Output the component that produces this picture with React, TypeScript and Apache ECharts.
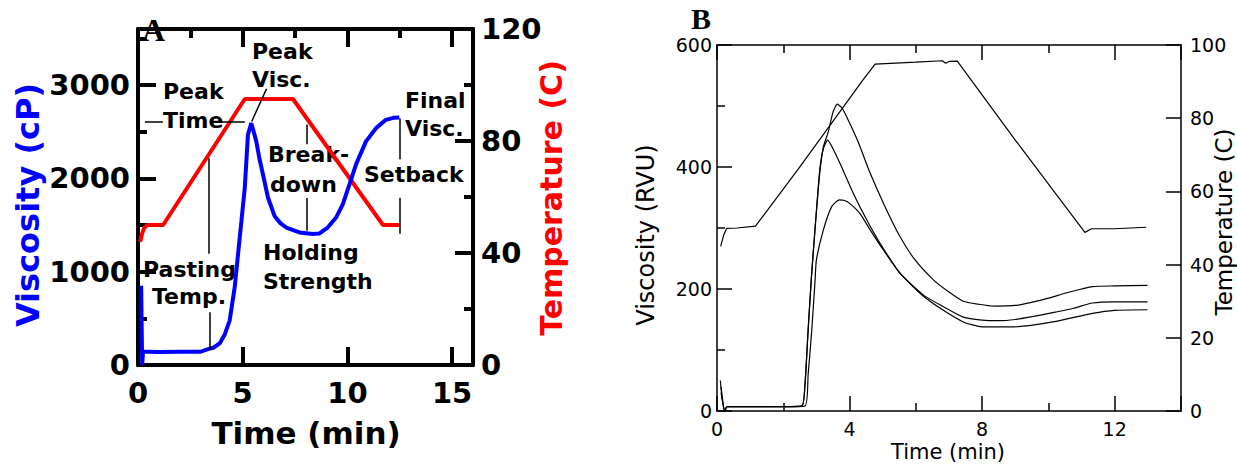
import React, { useEffect, useRef } from 'react';
import * as echarts from 'echarts';

// ---------- Panel A data ----------
const aViscTime = [0.15, 0.2, 0.24, 0.5, 1.0, 2.0, 3.0, 3.27, 3.43, 3.6, 3.9, 4.15, 4.38, 4.62, 4.78, 4.94, 5.1, 5.25, 5.41, 5.5, 5.65, 5.8, 5.97, 6.21, 6.52, 6.8, 7.08, 7.71, 8.35, 8.67, 9.06, 9.46, 9.78, 10.1, 10.41, 10.89, 11.37, 11.84, 12.2, 12.48];
const aViscValue = [850, 0, 142, 142, 140, 142, 142, 165, 175, 185, 231, 330, 479, 834, 1190, 1544, 1899, 2467, 2591, 2520, 2396, 2210, 2041, 1792, 1597, 1520, 1473, 1420, 1403, 1410, 1473, 1580, 1722, 1935, 2148, 2396, 2538, 2627, 2648, 2652];
const aTempTime = [0.1, 0.2, 0.3, 0.45, 1.2, 5.1, 7.4, 11.7, 12.5];
const aTempValue = [44, 47, 49, 50, 50, 95, 95, 50, 50];

// ---------- Panel B data ----------
const bTempTime = [0.11, 0.2, 0.29, 0.6, 1.16, 2.5, 4.4, 4.77, 6.0, 6.8, 6.9, 7.0, 7.25, 9.0, 11.1, 11.3, 12.0, 12.95];
const bTempValue = [45, 48, 49.9, 50, 50.5, 66.7, 90.4, 94.8, 95.3, 95.7, 95, 95.5, 95.6, 74, 48.8, 49.8, 49.8, 50.2];

const bVisc1Time = [0.1, 0.22, 0.3, 1.5, 2.55, 2.65, 2.75, 2.85, 2.96, 3.1, 3.21, 3.36, 3.5, 3.63, 3.75, 3.86, 4.26, 4.62, 5.07, 5.52, 5.97, 6.53, 7.0, 7.43, 7.9, 8.36, 9.0, 9.55, 10.0, 10.5, 11.0, 11.33, 12.0, 12.99];
const bVisc1Value = [50, 0, 7, 7, 8, 40, 133, 220, 300, 390, 433, 458, 490, 503, 498, 488, 441, 390, 335, 286, 248, 215, 195, 180, 175, 172, 173, 179, 185, 193, 200, 204, 205, 206];

const bVisc2Time = [0.12, 0.24, 0.3, 1.5, 2.55, 2.65, 2.75, 2.85, 2.96, 3.1, 3.21, 3.34, 3.5, 3.71, 4.11, 4.52, 4.92, 5.52, 6.23, 6.83, 7.43, 8.0, 8.5, 9.0, 9.55, 10.2, 10.74, 11.33, 12.0, 12.99];
const bVisc2Value = [40, 0, 7, 7, 8, 40, 133, 220, 300, 395, 430, 444, 430, 406, 357, 313, 275, 226, 190, 171, 154, 149, 148, 150, 155, 162, 168, 177, 179, 179];

const bVisc3Time = [0.12, 0.24, 0.3, 1.5, 2.65, 2.75, 2.86, 2.96, 3.0, 3.21, 3.46, 3.69, 3.85, 4.01, 4.31, 4.62, 5.02, 5.52, 6.23, 6.83, 7.43, 8.0, 8.95, 10.14, 11.33, 12.0, 12.99];
const bVisc3Value = [30, 0, 7, 7, 8, 60, 133, 215, 248, 297, 335, 346, 345, 340, 324, 297, 264, 226, 188, 165, 146, 138, 138, 146, 160, 165, 166];

// ---------- Tick label sets ----------
const aXLabels = [0, 5, 10, 15];
const aYLeftLabels = [0, 1000, 2000, 3000];
const aYRightLabels = [0, 40, 80, 120];
const bXLabels = [0, 4, 8, 12];

// annotation leader lines for panel A (data coordinates: [time, viscosity])
const aLeaders: [number, number, number, number][] = [
  [0.33, 2609, 1.19, 2609],
  [3.95, 2609, 5.1, 2609],
  [5.43, 2609, 6.14, 2960],
  [8.05, 2577, 8.05, 2364],
  [8.05, 1789, 8.05, 1438],
  [12.48, 2641, 12.48, 2204],
  [12.48, 1789, 12.48, 1406],
  [3.38, 2215, 3.38, 1193],
  [3.43, 564, 3.43, 160],
];

const zip = (t: number[], v: number[]) => t.map((x, i) => [x, v[i]]);

const FA = '"DejaVu Sans", sans-serif';

export default function App() {
  const ref = useRef<HTMLDivElement>(null);
  useEffect(() => {
    if (!ref.current) return;
    const chart = echarts.init(ref.current, null, { renderer: 'svg' });

    const boldLbl = { fontFamily: FA, fontWeight: 'bold' as const, fontSize: 29, color: '#000' };
    const regLbl = { fontFamily: FA, fontSize: 19, color: '#000' };
    const lineA = { show: true, onZero: false, lineStyle: { color: '#000', width: 4 } };
    const lineB = { show: true, onZero: false, lineStyle: { color: '#000', width: 1.5 } };
    // ticks pointing into the plot (negative length flips direction)
    const tickA = { show: true, inside: false, length: -18, lineStyle: { width: 4, color: '#000' } };
    const minorA = { show: true, splitNumber: 2, length: -9, lineStyle: { width: 4, color: '#000' } };
    const tickB = { show: true, inside: false, length: -15, lineStyle: { width: 1.5, color: '#000' } };
    const minorB = { show: true, splitNumber: 2, length: -8, lineStyle: { width: 1.5, color: '#000' } };

    const annot = (text: string, x: number, y: number) => ({
      type: 'text',
      style: { text, x, y, font: `bold 22px ${FA}`, fill: '#000', align: 'left', verticalAlign: 'middle' },
    });

    const option: any = {
      animation: false,
      backgroundColor: '#fff',
      grid: [
        { left: 138, top: 29, width: 335, height: 336 },
        { left: 717, top: 45, width: 464, height: 366 },
      ],
      xAxis: [
        {
          gridIndex: 0, type: 'value', position: 'bottom', min: 0, max: 16, interval: 5,
          axisLine: lineA, splitLine: { show: false }, axisTick: tickA,
          axisLabel: { ...boldLbl, margin: 13, formatter: (v: number) => (aXLabels.includes(v) ? String(v) : '') },
        },
        {
          gridIndex: 0, type: 'value', position: 'top', min: 0, max: 16, interval: 5,
          axisLine: lineA, splitLine: { show: false }, axisTick: tickA, minorTick: minorA,
          axisLabel: { show: false },
        },
        {
          gridIndex: 1, type: 'value', position: 'bottom', min: 0, max: 14, interval: 4,
          axisLine: lineB, splitLine: { show: false }, axisTick: tickB, minorTick: minorB,
          axisLabel: { ...regLbl, margin: 8, formatter: (v: number) => (bXLabels.includes(v) ? String(v) : '') },
        },
        {
          gridIndex: 1, type: 'value', position: 'top', min: 0, max: 14, interval: 4,
          axisLine: lineB, splitLine: { show: false }, axisTick: tickB, minorTick: minorB,
          axisLabel: { show: false },
        },
      ],
      yAxis: [
        {
          gridIndex: 0, type: 'value', position: 'left', min: 0, max: 3600, interval: 1000,
          axisLine: lineA, splitLine: { show: false }, axisTick: tickA, minorTick: minorA,
          axisLabel: { ...boldLbl, margin: 8, formatter: (v: number) => (aYLeftLabels.includes(v) ? String(v) : '') },
        },
        {
          gridIndex: 0, type: 'value', position: 'right', min: 0, max: 120, interval: 40,
          axisLine: lineA, splitLine: { show: false }, axisTick: tickA, minorTick: minorA,
          axisLabel: { ...boldLbl, margin: 8, formatter: (v: number) => (aYRightLabels.includes(v) ? String(v) : '') },
        },
        {
          gridIndex: 1, type: 'value', position: 'left', min: 0, max: 600, interval: 200,
          axisLine: lineB, splitLine: { show: false }, axisTick: tickB, minorTick: minorB,
          axisLabel: { ...regLbl, margin: 5 },
        },
        {
          gridIndex: 1, type: 'value', position: 'right', min: 0, max: 100, interval: 20,
          axisLine: lineB, splitLine: { show: false }, axisTick: tickB,
          axisLabel: { ...regLbl, margin: 9 },
        },
      ],
      series: [
        {
          type: 'line', xAxisIndex: 0, yAxisIndex: 1, data: zip(aTempTime, aTempValue),
          showSymbol: false, lineStyle: { color: '#ff0000', width: 4 }, z: 3,
        },
        {
          type: 'line', xAxisIndex: 0, yAxisIndex: 0, data: zip(aViscTime, aViscValue),
          showSymbol: false, lineStyle: { color: '#0000ff', width: 4 }, z: 4,
          markLine: {
            silent: true, symbol: 'none', label: { show: false },
            lineStyle: { color: '#000', width: 1.5, type: 'solid' },
            data: aLeaders.map(([x1, y1, x2, y2]) => [{ coord: [x1, y1] }, { coord: [x2, y2] }]),
          },
        },
        {
          type: 'line', xAxisIndex: 2, yAxisIndex: 3, data: zip(bTempTime, bTempValue),
          showSymbol: false, lineStyle: { color: '#000', width: 1.2 },
        },
        {
          type: 'line', xAxisIndex: 2, yAxisIndex: 2, data: zip(bVisc1Time, bVisc1Value),
          showSymbol: false, smooth: 0.2, lineStyle: { color: '#000', width: 1.2 },
        },
        {
          type: 'line', xAxisIndex: 2, yAxisIndex: 2, data: zip(bVisc2Time, bVisc2Value),
          showSymbol: false, smooth: 0.2, lineStyle: { color: '#000', width: 1.2 },
        },
        {
          type: 'line', xAxisIndex: 2, yAxisIndex: 2, data: zip(bVisc3Time, bVisc3Value),
          showSymbol: false, smooth: 0.2, lineStyle: { color: '#000', width: 1.2 },
        },
      ],
      graphic: [
        { type: 'text', style: { text: 'A', x: 142, y: 14, font: 'bold 32px "Liberation Serif", serif', fill: '#000' } },
        {
          type: 'text', x: 691, y: 18,
          style: { text: 'B', font: 'bold 30px "Liberation Serif", serif', fill: '#000', align: 'left', verticalAlign: 'middle' },
        },
        {
          type: 'text', x: 28, y: 205, rotation: Math.PI / 2,
          style: { text: 'Viscosity (cP)', font: `bold 32px ${FA}`, fill: '#0000ff', align: 'center', verticalAlign: 'middle' },
        },
        {
          type: 'text', x: 551, y: 198, rotation: Math.PI / 2,
          style: { text: 'Temperature (C)', font: `bold 30px ${FA}`, fill: '#ff0000', align: 'center', verticalAlign: 'middle' },
        },
        {
          type: 'text', x: 306, y: 433,
          style: { text: 'Time (min)', font: `bold 31px ${FA}`, fill: '#000', align: 'center', verticalAlign: 'middle' },
        },
        {
          type: 'text', x: 646, y: 235, rotation: Math.PI / 2,
          style: { text: 'Viscosity (RVU)', font: `24px ${FA}`, fill: '#000', align: 'center', verticalAlign: 'middle' },
        },
        {
          type: 'text', x: 1224, y: 222, rotation: Math.PI / 2,
          style: { text: 'Temperature (C)', font: `23px ${FA}`, fill: '#000', align: 'center', verticalAlign: 'middle' },
        },
        {
          type: 'text', x: 948, y: 452,
          style: { text: 'Time (min)', font: `21px ${FA}`, fill: '#000', align: 'center', verticalAlign: 'middle' },
        },
        annot('Peak', 163, 91),
        annot('Time', 163, 120),
        annot('Peak', 252, 51),
        annot('Visc.', 252, 79),
        annot('Break-', 268, 154),
        annot('down', 270, 184),
        annot('Holding', 263, 252),
        annot('Strength', 263, 281),
        annot('Pasting', 143, 269),
        annot('Temp.', 152, 296),
        annot('Final', 405, 100),
        annot('Visc.', 405, 128),
        annot('Setback', 364, 174),
      ],
    };
    chart.setOption(option);
    return () => chart.dispose();
  }, []);
  return (
    <div
      ref={ref}
      style={{ position: 'absolute', left: 0, top: 0, width: 1237, height: 464, background: '#fff' }}
    />
  );
}
